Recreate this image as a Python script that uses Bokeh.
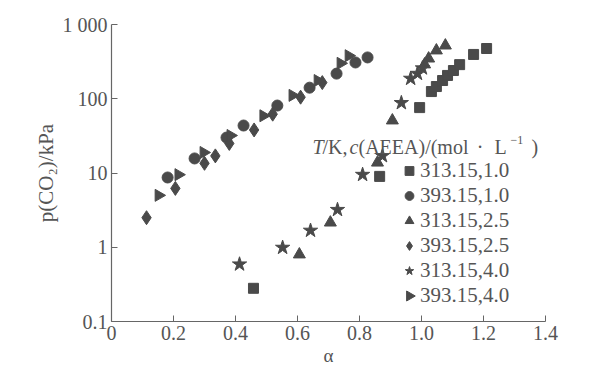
import numpy as np
from bokeh.plotting import figure
from bokeh.models import (Range1d, FixedTicker, Legend, LegendItem, Label,
                          CustomJSTickFormatter)
from bokeh.embed import file_html
from bokeh.resources import INLINE

# ---------------- data ----------------
x_ticks = [0, 0.2, 0.4, 0.6, 0.8, 1.0, 1.2, 1.4]
x_tick_labels = ["0", "0.2", "0.4", "0.6", "0.8", "1.0", "1.2", "1.4"]
y_ticks = [0.1, 1, 10, 100, 1000]
y_tick_labels = ["0.1", "1", "10", "100", "1 000"]

series_names = ["313.15,1.0", "393.15,1.0", "313.15,2.5",
                "393.15,2.5", "313.15,4.0", "393.15,4.0"]

sq_a = [0.458, 0.865, 0.994, 1.032, 1.048, 1.068, 1.084, 1.103, 1.123, 1.168, 1.21]
sq_p = [0.28, 9.0, 76, 125, 146, 176, 206, 240, 288, 395, 475]

ci_a = [0.181, 0.268, 0.371, 0.426, 0.535, 0.639, 0.726, 0.787, 0.826]
ci_p = [8.7, 15.7, 30, 43.6, 81, 141, 218, 308, 360]

tu_a = [0.606, 0.706, 0.858, 0.906, 1.01, 1.023, 1.048, 1.077]
tu_p = [0.8, 2.15, 13.8, 51, 290, 348, 447, 521]

di_a = [0.113, 0.206, 0.300, 0.335, 0.38, 0.46, 0.52, 0.61, 0.68]
di_p = [2.5, 6.2, 13.5, 17, 25, 38, 62, 105, 165]

st_a = [0.413, 0.552, 0.642, 0.729, 0.81, 0.874, 0.935, 0.965, 0.987, 1.003]
st_p = [0.59, 0.99, 1.68, 3.2, 9.5, 17, 88, 187, 218, 258]

tr_a = [0.152, 0.216, 0.297, 0.384, 0.49, 0.584, 0.665, 0.739, 0.765]
tr_p = [5.0, 9.5, 18.9, 32, 59, 111, 176, 300, 380]

# ---------------- styles ----------------
FONT = "Liberation Serif"
TXT = "#555555"
MK = "#4a4a4a"
AX = "#666666"

p = figure(frame_width=434, frame_height=297, x_range=Range1d(0, 1.4),
           y_range=Range1d(0.1, 1000), y_axis_type="log",
           output_backend="svg", toolbar_location=None,
           min_border_left=111, min_border_right=55,
           min_border_top=24, min_border_bottom=50)
p.outline_line_color = None
p.grid.visible = False
p.background_fill_color = "white"

p.xaxis.ticker = FixedTicker(ticks=x_ticks)
p.yaxis.ticker = FixedTicker(ticks=y_ticks)
fmt_code = """
let best = 0;
for (let i = 0; i < vals.length; i++) {
  if (Math.abs(Math.log(vals[i]+1e-9) - Math.log(tick+1e-9)) <
      Math.abs(Math.log(vals[best]+1e-9) - Math.log(tick+1e-9))) best = i;
}
return labs[best];
"""
p.xaxis.formatter = CustomJSTickFormatter(args=dict(vals=x_ticks, labs=x_tick_labels), code=fmt_code)
p.yaxis.formatter = CustomJSTickFormatter(args=dict(vals=y_ticks, labs=y_tick_labels), code=fmt_code)

for ax in (p.xaxis, p.yaxis):
    ax.axis_line_color = AX
    ax.axis_line_width = 1.2
    ax.major_tick_line_color = AX
    ax.major_tick_in = 6
    ax.major_tick_out = 0
    ax.minor_tick_line_color = None
    ax.major_label_text_font = FONT
    ax.major_label_text_font_size = "20px"
    ax.major_label_text_color = TXT
    ax.axis_label_text_font = FONT
    ax.axis_label_text_font_style = "normal"
    ax.axis_label_text_color = TXT
p.xaxis.major_label_standoff = 4
p.yaxis.major_label_standoff = 4
p.xaxis.axis_label = "α"
p.xaxis.axis_label_text_font_size = "19px"
p.xaxis.axis_label_standoff = 2
p.yaxis.axis_label = "p(CO₂)/kPa"
p.yaxis.axis_label_text_font_size = "21px"
p.yaxis.axis_label_standoff = 2

r_sq = p.scatter(sq_a, sq_p, marker="square", size=10, color=MK)
r_ci = p.scatter(ci_a, ci_p, marker="circle", size=11, color=MK)
r_tu = p.scatter(tu_a, tu_p, marker="triangle", size=12, color=MK)
r_di = p.scatter(di_a, di_p, marker="diamond", size=14, color=MK)
r_st = p.scatter(st_a, st_p, marker="star", size=15, color=MK)
r_tr = p.scatter(tr_a, tr_p, marker="triangle", size=12, color=MK, angle=-np.pi / 2)

# legend keys drawn by Bokeh ignore marker angle, so the last key is a blank
# swatch with a rotated triangle drawn over it
LEG_X, LEG_Y, GW, GH = 287, 13, 22, 25
r_blank = p.scatter([], [], marker="triangle", size=1, fill_alpha=0, line_alpha=0)
renderers = [r_sq, r_ci, r_tu, r_di, r_st, r_blank]
items = [LegendItem(label=n, renderers=[r]) for n, r in zip(series_names, renderers)]
legend = Legend(items=items, location=(LEG_X, LEG_Y), padding=0, margin=0,
                border_line_color=None, background_fill_alpha=0,
                glyph_width=GW, glyph_height=GH, label_height=GH,
                spacing=0, label_standoff=0,
                label_text_font=FONT, label_text_font_size="21px",
                label_text_color=TXT)
p.add_layout(legend)

# --------- helpers: frame pixel -> data coordinates ---------
def fx(px):
    return px / 310.0

def fy(py_from_top):
    return 10 ** (3 - py_from_top / 74.25)

FH = 297
p.scatter([fx(LEG_X + GW / 2)], [fy(FH - LEG_Y - GH / 2)], marker="triangle",
          size=10, color=MK, angle=-np.pi / 2)

def lab(x, y, t, style="normal", size="20px", align="left", base="middle"):
    p.add_layout(Label(x=x, y=y, text=t, text_font=FONT, text_font_size=size,
                       text_font_style=style, text_color=TXT, text_align=align,
                       text_baseline=base))

# legend title  T/K,c(AEEA)/(mol · L^-1)   (positions relative to frame)
ty = fy(122)
lab(fx(201), ty, "T", "italic")
lab(fx(211), ty, "/K,")
lab(fx(238), ty, "c", "italic")
lab(fx(247), ty, "(AEEA)/(mol")
lab(fx(368.5), ty, "·", align="center")
lab(fx(383), ty, "L")
lab(fx(399), fy(115), "−1", size="12px")
lab(fx(420), ty, ")")

open("out.html", "w").write(file_html(p, INLINE))
